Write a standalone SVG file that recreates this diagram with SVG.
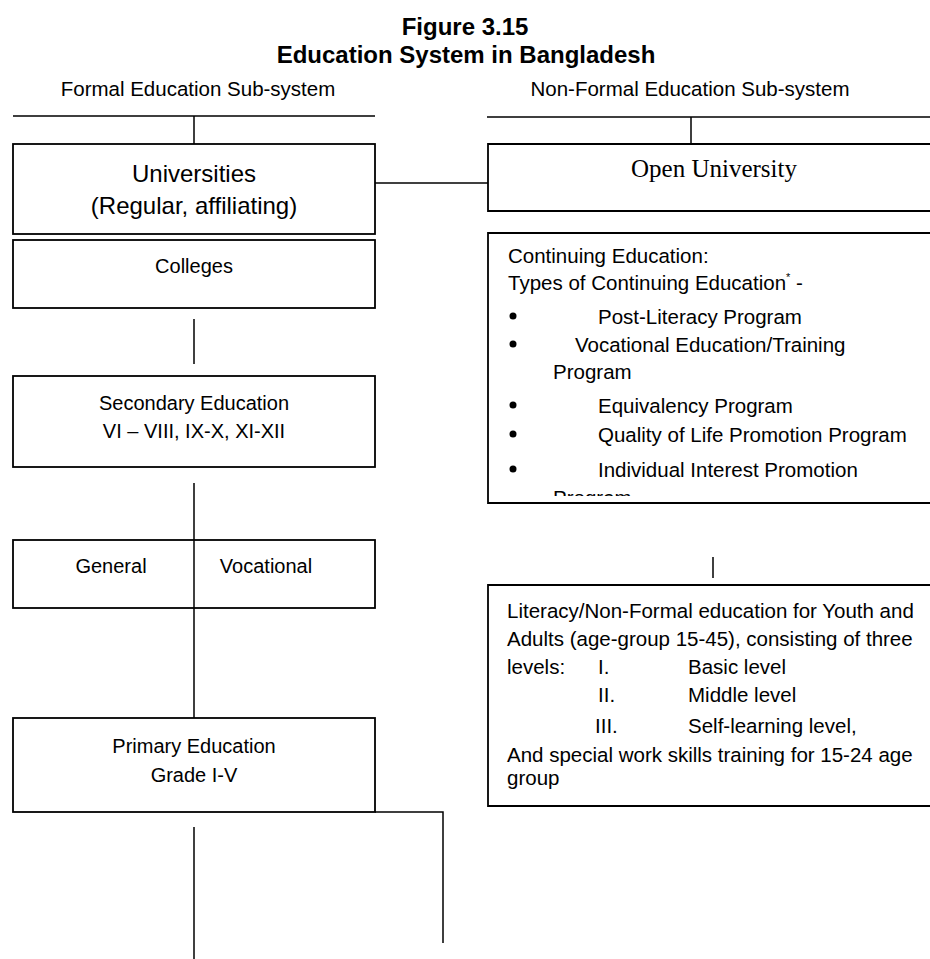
<svg xmlns="http://www.w3.org/2000/svg" width="930" height="959" viewBox="0 0 930 959">
<defs>
<style>
text{font-family:"Liberation Sans",Arial,sans-serif;fill:#000}
.t{font-weight:bold;font-size:24px;text-anchor:middle}
.h{font-size:20.5px;text-anchor:middle}
.b{font-size:20px;text-anchor:middle}
.big{font-size:24px;text-anchor:middle}
.r{font-size:20.5px}
.serif{font-family:"Liberation Serif","Times New Roman",serif;font-size:25px;text-anchor:middle}
.box{fill:#fff;stroke:#000;stroke-width:1.8}
.open{fill:none;stroke:#000;stroke-width:1.8}
.ln{fill:none;stroke:#000;stroke-width:1.5}
</style>
<clipPath id="clipCE"><rect x="490" y="235" width="440" height="261"/></clipPath>
</defs>
<rect width="930" height="959" fill="#fff"/>

<g id="title">
<text class="t" x="465" y="35">Figure 3.15</text>
<text class="t" x="466" y="63">Education System in Bangladesh</text>
</g>

<g id="formal-header">
<text class="h" x="198" y="96">Formal Education Sub-system</text>
</g>
<g id="nonformal-header">
<text class="h" x="690" y="96">Non-Formal Education Sub-system</text>
</g>

<g id="connectors">
<path class="ln" d="M13,116 H375 M194,116 V144"/>
<path class="ln" d="M487,117 H930 M691,117 V144"/>
<path class="ln" d="M375,183 H488"/>
<path class="ln" d="M194,319 V364"/>
<path class="ln" d="M194,483 V540 M194,608 V718"/>
<path class="ln" d="M194,827 V959"/>
<path class="ln" d="M375,812 H443 V943"/>
<path class="ln" d="M713,557 V578"/>
</g>

<g id="universities">
<rect class="box" x="13" y="144" width="362" height="90"/>
<text class="big" x="194" y="182">Universities</text>
<text class="big" x="194" y="214">(Regular, affiliating)</text>
</g>

<g id="colleges">
<rect class="box" x="13" y="240" width="362" height="68"/>
<text class="b" x="194" y="273">Colleges</text>
</g>

<g id="secondary">
<rect class="box" x="13" y="376" width="362" height="91"/>
<text class="b" x="194" y="410">Secondary Education</text>
<text class="b" x="194" y="438">VI – VIII, IX-X, XI-XII</text>
</g>

<g id="general-vocational">
<rect class="box" x="13" y="540" width="362" height="68"/>
<line class="ln" x1="194" y1="540" x2="194" y2="608"/>
<text class="b" x="111" y="573">General</text>
<text class="b" x="266" y="573">Vocational</text>
</g>

<g id="primary">
<rect class="box" x="13" y="718" width="362" height="94"/>
<text class="b" x="194" y="753">Primary Education</text>
<text class="b" x="194" y="782">Grade I-V</text>
</g>

<g id="open-university">
<path class="open" d="M930,144 H488 V211 H930"/>
<text class="serif" x="714" y="177">Open University</text>
</g>

<g id="continuing-education">
<path class="open" d="M930,233 H488 V503 H930"/>
<g clip-path="url(#clipCE)">
<text class="r" x="508" y="263">Continuing Education:</text>
<text class="r" x="508" y="290">Types of Continuing Education<tspan font-size="11" dy="-9">*</tspan><tspan dy="9"> -</tspan></text>
<circle cx="513" cy="316" r="3.5"/>
<text class="r" x="598" y="324">Post-Literacy Program</text>
<circle cx="513" cy="344" r="3.5"/>
<text class="r" x="575" y="352">Vocational Education/Training</text>
<text class="r" x="553" y="379">Program</text>
<circle cx="513" cy="405" r="3.5"/>
<text class="r" x="598" y="413">Equivalency Program</text>
<circle cx="513" cy="434" r="3.5"/>
<text class="r" x="598" y="442">Quality of Life Promotion Program</text>
<circle cx="513" cy="469" r="3.5"/>
<text class="r" x="598" y="477">Individual Interest Promotion</text>
<text class="r" x="553" y="505">Program</text>
</g>
</g>

<g id="literacy">
<path class="open" d="M930,585 H488 V806 H930"/>
<text class="r" x="507" y="618">Literacy/Non-Formal education for Youth and</text>
<text class="r" x="507" y="646">Adults (age-group 15-45), consisting of three</text>
<text class="r" x="507" y="674">levels:</text>
<text class="r" x="598" y="674">I.</text>
<text class="r" x="688" y="674">Basic level</text>
<text class="r" x="598" y="702">II.</text>
<text class="r" x="688" y="702">Middle level</text>
<text class="r" x="595" y="733">III.</text>
<text class="r" x="688" y="733">Self-learning level,</text>
<text class="r" x="507" y="762">And special work skills training for 15-24 age</text>
<text class="r" x="507" y="785">group</text>
</g>
</svg>
